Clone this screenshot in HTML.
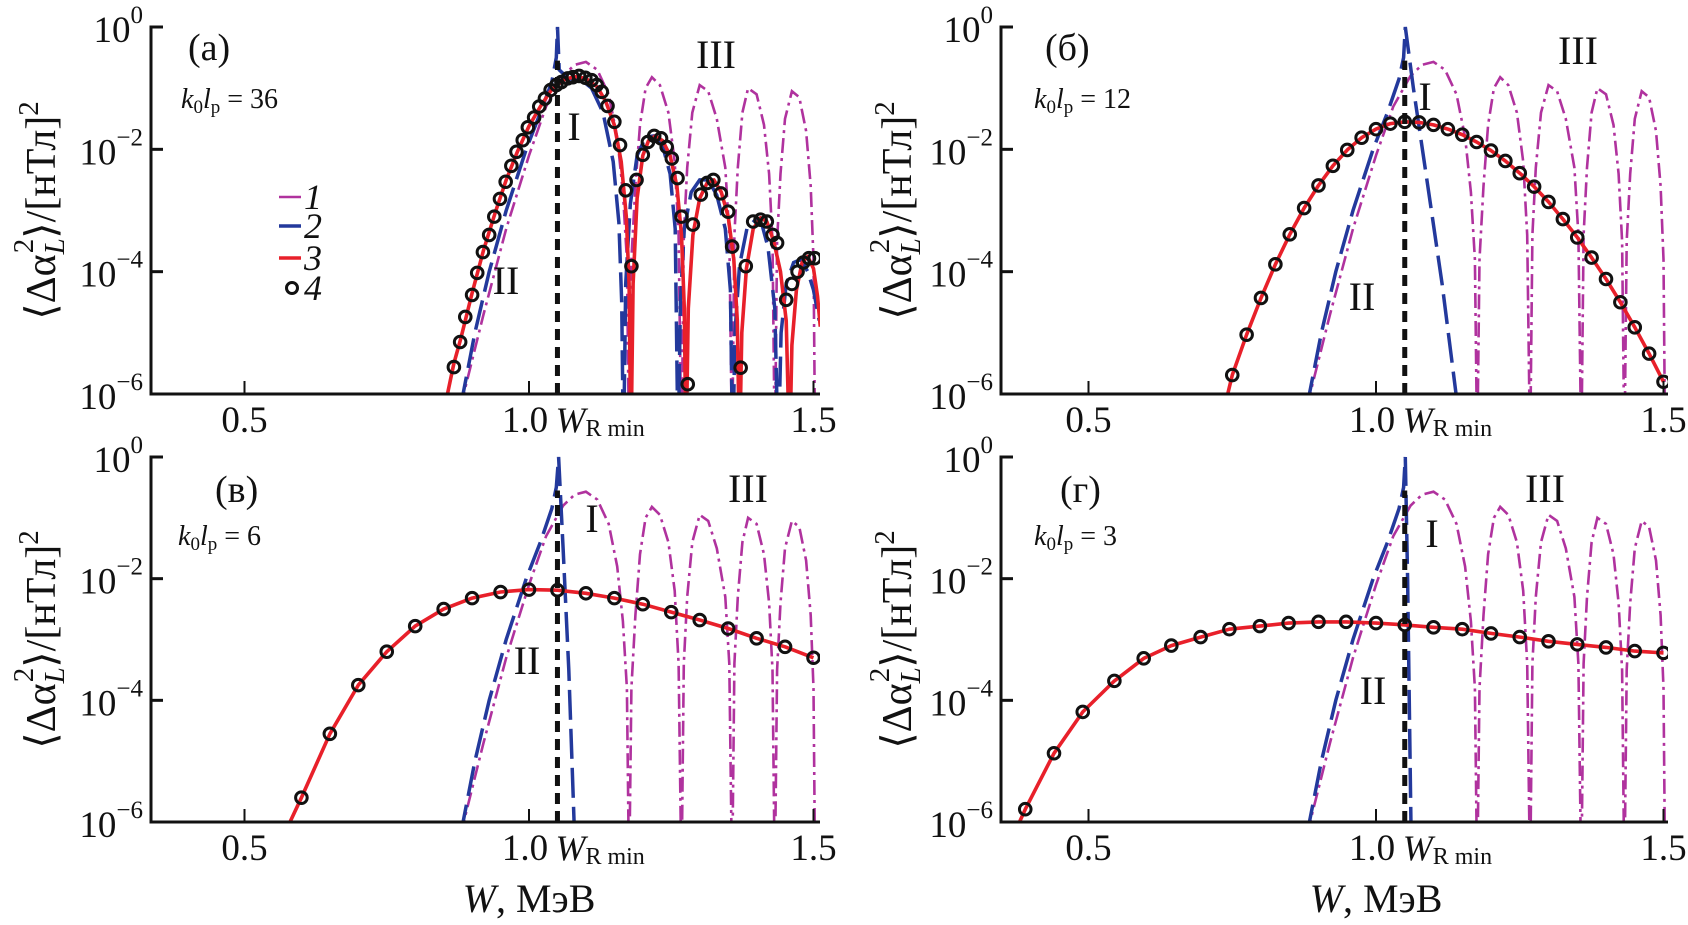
<!DOCTYPE html>
<html><head><meta charset="utf-8"><style>
html,body{margin:0;padding:0;background:#fff;}
svg{display:block;font-family:"Liberation Serif",serif;}
</style></head><body>
<svg id="fig" width="1688" height="925" viewBox="0 0 1688 925" xmlns="http://www.w3.org/2000/svg"></svg>
<script>
// ---------- data (W in MeV, value as log10) ----------
const wRmin = 1.05;
const yTicks = [0, -2, -4, -6];
const xTicks = [0.5, 1.0, 1.5];
const xTickLabels = ["0.5", "1.0", "1.5"];
// curve 1 (same in all panels)
const curve1 = [[0.88,-6.2],[0.92,-4.7],[0.96,-3.3],[1.0,-2.1],[1.03,-1.3],[1.06,-0.8],[1.08,-0.62],[1.10,-0.57],[1.12,-0.7],[1.14,-1.1],[1.155,-1.8],[1.165,-2.7],[1.172,-3.8],[1.176,-7],
[1.180,-3.8],[1.187,-2.6],[1.195,-1.6],[1.205,-1.0],[1.216,-0.82],[1.23,-0.95],[1.245,-1.4],[1.256,-2.2],[1.263,-3.4],[1.268,-7],
[1.272,-3.4],[1.278,-2.3],[1.287,-1.4],[1.30,-0.95],[1.315,-1.05],[1.33,-1.5],[1.345,-2.3],[1.352,-3.4],[1.357,-7],
[1.361,-3.4],[1.367,-2.3],[1.375,-1.4],[1.385,-1.0],[1.40,-1.1],[1.413,-1.6],[1.422,-2.4],[1.428,-3.5],[1.432,-7],
[1.436,-3.5],[1.442,-2.4],[1.45,-1.5],[1.462,-1.05],[1.475,-1.15],[1.487,-1.7],[1.495,-2.6],[1.50,-3.8],[1.503,-7]];
// curve 2 per panel
const curve2a = [[0.88,-6.2],[0.905,-5.0],[0.93,-4.0],[0.96,-3.0],[0.995,-2.0],[1.02,-1.4],[1.04,-0.9],[1.048,-0.5],[1.05,0],[1.053,-0.7],[1.07,-0.85],[1.09,-0.85],[1.11,-1.0],[1.13,-1.4],[1.148,-2.2],[1.158,-3.2],[1.163,-4.5],[1.166,-7],
[1.170,-4.2],[1.178,-2.9],[1.19,-2.1],[1.205,-1.8],[1.22,-1.78],[1.235,-1.95],[1.248,-2.4],[1.257,-3.3],[1.262,-7],
[1.266,-4.5],[1.273,-3.3],[1.285,-2.7],[1.30,-2.5],[1.315,-2.5],[1.33,-2.75],[1.345,-3.3],[1.354,-4.3],[1.358,-7],
[1.362,-5],[1.37,-3.9],[1.383,-3.3],[1.398,-3.15],[1.41,-3.25],[1.42,-3.6],[1.432,-4.6],[1.438,-7],
[1.443,-5],[1.452,-4.2],[1.465,-3.85],[1.478,-3.8],[1.49,-4.0],[1.50,-4.3],[1.51,-4.8]];
const curve2b = [[0.88,-6.2],[0.905,-5.0],[0.93,-4.0],[0.96,-3.0],[0.995,-2.0],[1.02,-1.4],[1.04,-0.85],[1.048,-0.5],[1.051,0],[1.065,-1.0],[1.09,-2.6],[1.115,-4.2],[1.142,-6.2]];
const curve2c = [[0.88,-6.2],[0.905,-5.0],[0.93,-4.0],[0.96,-3.0],[0.995,-2.0],[1.02,-1.4],[1.04,-0.85],[1.048,-0.5],[1.052,0],[1.06,-1.5],[1.07,-3.5],[1.08,-6.2]];
const curve2d = [[0.88,-6.2],[0.905,-5.0],[0.93,-4.0],[0.96,-3.0],[0.995,-2.0],[1.02,-1.4],[1.04,-0.85],[1.048,-0.5],[1.051,0],[1.055,-2.0],[1.061,-6.2]];
// curve 3 per panel
const curve3a = [[0.85,-6.3],[0.868,-5.5],[0.88,-5.1],[0.90,-4.35],[0.92,-3.65],[0.94,-3.05],[0.96,-2.5],[0.98,-2.03],[1.0,-1.62],[1.02,-1.3],[1.04,-1.02],[1.06,-0.87],[1.08,-0.81],[1.10,-0.84],[1.12,-0.98],[1.135,-1.22],[1.15,-1.6],[1.162,-2.2],[1.171,-3.1],[1.176,-4.2],[1.179,-7],
[1.183,-4.2],[1.19,-2.8],[1.20,-2.1],[1.21,-1.86],[1.222,-1.78],[1.235,-1.86],[1.248,-2.1],[1.26,-2.6],[1.268,-3.4],[1.273,-4.6],[1.276,-7],
[1.28,-4.6],[1.288,-3.4],[1.30,-2.8],[1.313,-2.55],[1.325,-2.5],[1.338,-2.7],[1.35,-3.1],[1.36,-3.8],[1.366,-4.8],[1.37,-7],
[1.374,-5],[1.382,-3.95],[1.394,-3.3],[1.407,-3.12],[1.418,-3.18],[1.43,-3.5],[1.442,-4.0],[1.452,-4.8],[1.458,-7],
[1.462,-5.2],[1.47,-4.3],[1.48,-3.85],[1.49,-3.75],[1.50,-3.95],[1.507,-4.4],[1.512,-4.9]];
const curve3b = [[0.742,-6.0],[0.75,-5.69],[0.775,-5.03],[0.80,-4.43],[0.825,-3.88],[0.85,-3.39],[0.875,-2.96],[0.90,-2.59],[0.925,-2.27],[0.95,-2.01],[0.975,-1.81],[1.0,-1.67],[1.025,-1.58],[1.05,-1.55],[1.075,-1.56],[1.10,-1.60],[1.125,-1.67],[1.15,-1.76],[1.175,-1.88],[1.20,-2.02],[1.225,-2.19],[1.25,-2.39],[1.275,-2.61],[1.30,-2.86],[1.325,-3.14],[1.35,-3.44],[1.375,-3.77],[1.40,-4.12],[1.425,-4.50],[1.45,-4.91],[1.475,-5.34],[1.50,-5.80]];
const curve3c = [[0.58,-6.0],[0.6,-5.6],[0.65,-4.55],[0.7,-3.75],[0.75,-3.2],[0.8,-2.78],[0.85,-2.5],[0.9,-2.32],[0.95,-2.22],[1.0,-2.18],[1.05,-2.19],[1.1,-2.24],[1.15,-2.32],[1.2,-2.42],[1.25,-2.55],[1.3,-2.68],[1.35,-2.82],[1.4,-2.98],[1.45,-3.12],[1.5,-3.3]];
const curve3d = [[0.38,-6.0],[0.39,-5.79],[0.44,-4.87],[0.49,-4.19],[0.545,-3.68],[0.596,-3.31],[0.644,-3.1],[0.695,-2.96],[0.745,-2.83],[0.798,-2.78],[0.848,-2.73],[0.9,-2.71],[0.948,-2.71],[1.0,-2.73],[1.05,-2.76],[1.1,-2.8],[1.15,-2.83],[1.2,-2.9],[1.25,-2.96],[1.3,-3.03],[1.35,-3.08],[1.4,-3.13],[1.45,-3.19],[1.5,-3.22]];
// curve 4 (points) per panel
const points4a = [[0.868,-5.56],[0.879,-5.15],[0.888,-4.74],[0.9,-4.38],[0.909,-4.02],[0.919,-3.68],[0.93,-3.4],[0.939,-3.1],[0.949,-2.81],[0.959,-2.53],[0.969,-2.27],[0.978,-2.04],[0.989,-1.85],[0.998,-1.64],[1.009,-1.48],[1.018,-1.30],[1.028,-1.17],[1.038,-1.03],[1.048,-0.95],[1.057,-0.9],[1.068,-0.84],[1.077,-0.82],[1.088,-0.8],[1.099,-0.83],[1.11,-0.87],[1.119,-0.95],[1.128,-1.06],[1.138,-1.29],[1.15,-1.55],[1.16,-1.93],[1.17,-2.67],[1.18,-3.91],[1.189,-2.5],[1.2,-2.09],[1.209,-1.88],[1.22,-1.78],[1.232,-1.82],[1.242,-1.96],[1.251,-2.15],[1.261,-2.47],[1.268,-3.1],[1.279,-5.84],[1.288,-3.23],[1.302,-2.74],[1.313,-2.55],[1.324,-2.5],[1.337,-2.72],[1.35,-3.02],[1.357,-3.59],[1.372,-5.57],[1.381,-3.91],[1.394,-3.18],[1.407,-3.15],[1.418,-3.18],[1.428,-3.4],[1.436,-3.53],[1.452,-4.46],[1.462,-4.2],[1.472,-4.0],[1.482,-3.85],[1.492,-3.78],[1.502,-3.78]];
const points4b = curve3b.slice(1);
const points4c = curve3c.slice(1);
const points4d = curve3d.slice(1);
</script>
<script>
const svg = document.getElementById('fig');
const NS = 'http://www.w3.org/2000/svg';
function mk(tag, attrs, parent) {
  const el = document.createElementNS(NS, tag);
  for (const k in attrs) el.setAttribute(k, attrs[k]);
  (parent || svg).appendChild(el);
  return el;
}
const panels = [
  {id:'a', lab:'(а)', k:'36', ax:151, right:820, x1:529, unit:569, top:27, bot:394, c2:curve2a, c3:curve3a, p4:points4a,
   titleX:43, legend:true, III:[716,68], I:[574,140], II:[506,294], label:[188,60], kl:[181,108]},
  {id:'b', lab:'(б)', k:'12', ax:1001, right:1668, x1:1376, unit:575, top:27, bot:394, c2:curve2b, c3:curve3b, p4:points4b,
   titleX:899, III:[1578,64], I:[1425,110], II:[1362,310], label:[1045,60], kl:[1034,108]},
  {id:'c', lab:'(в)', k:'6', ax:151, right:820, x1:529, unit:569, top:457, bot:822, c2:curve2c, c3:curve3c, p4:points4c,
   titleX:43, III:[748,502], I:[592,532], II:[527,674], label:[215,502], kl:[178,545]},
  {id:'d', lab:'(г)', k:'3', ax:1001, right:1668, x1:1376, unit:575, top:457, bot:822, c2:curve2d, c3:curve3d, p4:points4d,
   titleX:899, III:[1545,502], I:[1432,547], II:[1373,704], label:[1060,502], kl:[1034,545]}
];
panels.forEach(function(P) {
  const g = mk('g', {});
  
  
  const xs = function(w){ return P.x1 + (w - 1) * P.unit; };
  const ys = function(l){ return P.top + (-l) / 6 * (P.bot - P.top); };
  const cp = mk('clipPath', {id:'clip-' + P.id}, g);
  mk('rect', {x:P.ax, y:P.top - 6, width:P.right - P.ax, height:P.bot - P.top + 6}, cp);
  const plot = mk('g', {'clip-path':'url(#clip-' + P.id + ')'}, g);
  
  
  function pathOf(arr){ return arr.map(function(p,i){ return (i?'L':'M') + xs(p[0]).toFixed(1) + ' ' + ys(p[1]).toFixed(1); }).join(' '); }
  const l1 = mk('path', {d:pathOf(curve1), fill:'none', stroke:'#b0329e', 'stroke-width':2.6, 'stroke-dasharray':'15 5 3 5'}, plot);
  
  
  const l2 = mk('path', {d:pathOf(P.c2), fill:'none', stroke:'#23399c', 'stroke-width':3.5, 'stroke-dasharray':'30 9'}, plot);
  
  
  const l3 = mk('path', {d:pathOf(P.c3), fill:'none', stroke:'#e8202a', 'stroke-width':3.6, 'stroke-linejoin':'round'}, plot);
  
  
  P.p4.forEach(function(p) {
    const c = mk('circle', {cx:xs(p[0]), cy:ys(p[1]), r:5.8, fill:'none', stroke:'#111', 'stroke-width':3}, plot);
    
    
  });
  const vl = mk('line', {x1:xs(wRmin), x2:xs(wRmin), y1:P.bot, y2:ys(-0.55), stroke:'#111', 'stroke-width':5, 'stroke-dasharray':'11 7'}, g);
  
  
  // axes
  const axis = mk('path', {d:'M' + (P.ax + 12) + ' ' + P.top + ' L' + P.ax + ' ' + P.top + ' L' + P.ax + ' ' + P.bot + ' L' + P.right + ' ' + P.bot, fill:'none', stroke:'#111', 'stroke-width':3}, g);
  
  
  yTicks.forEach(function(t) {
    const tk = mk('line', {x1:P.ax, x2:P.ax + 12, y1:ys(t), y2:ys(t), stroke:'#111', 'stroke-width':3}, g);
    
    
    const tx = mk('text', {x:P.ax - 8, y:ys(t) + 15, 'text-anchor':'end', 'font-size':37, fill:'#111'}, g);
    
    
    tx.appendChild(document.createTextNode('10'));
    const sp = mk('tspan', {dy:-19, 'font-size':25}, tx);
    sp.textContent = t === 0 ? '0' : '\u2212' + (-t);
  });
  xTicks.forEach(function(t, i) {
    const tk = mk('line', {x1:xs(t), x2:xs(t), y1:P.bot, y2:P.bot - 13, stroke:'#111', 'stroke-width':2}, g);
    
    
    const tx = mk('text', {x:xs(t) - (i === 1 ? 4 : 0), y:P.bot + 38, 'text-anchor':'middle', 'font-size':37, fill:'#111'}, g);
    
    
    tx.textContent = xTickLabels[i];
  });
  const wl = mk('text', {x:xs(wRmin) - 2, y:P.bot + 38, 'font-size':36, fill:'#111'}, g);
  
  
  const wi = mk('tspan', {'font-style':'italic'}, wl); wi.textContent = 'W';
  const ws = mk('tspan', {'font-size':24, dy:4}, wl); ws.textContent = 'R min';
  // y title
  const yt = mk('text', {transform:'translate(' + (P.titleX + 12) + ',' + ((P.top + P.bot) / 2) + ') rotate(-90)', 'text-anchor':'middle', 'font-size':42, fill:'#111'}, g);
  
  
  yt.innerHTML = '\u27E8\u0394\u03B1<tspan font-size="29" font-style="italic" dy="9">L</tspan><tspan font-size="29" dx="-15" dy="-31">2</tspan><tspan dy="22">\u27E9/[нТл]</tspan><tspan font-size="29" dy="-17">2</tspan>';
  // labels
  const pl = mk('text', {x:P.label[0], y:P.label[1], 'font-size':38, fill:'#111'}, g);
  
  
  pl.textContent = P.lab;
  const kt = mk('text', {x:P.kl[0], y:P.kl[1], 'font-size':28, fill:'#111'}, g);
  
  
  kt.innerHTML = '<tspan font-style="italic">k</tspan><tspan font-size="19" dy="5">0</tspan><tspan font-style="italic" dy="-5">l</tspan><tspan font-size="19" dy="5">p</tspan><tspan dy="-5"> = ' + P.k + '</tspan>';
  [['III', P.III], ['I', P.I], ['II', P.II]].forEach(function(r) {
    const t = mk('text', {x:r[1][0], y:r[1][1], 'font-size':40, fill:'#111', 'text-anchor':'middle'}, g);
    
    
    t.textContent = r[0];
  });
  if (P.legend) {
    const lg = mk('g', {}, g);
    
    
    const ent = [['1','#b0329e',197],['2','#23399c',226],['3','#e8202a',258],['4',null,288]];
    ent.forEach(function(e) {
      if (e[1]) {
        const ln = mk('line', {x1:279, x2:301, y1:e[2], y2:e[2], stroke:e[1], 'stroke-width':e[0] === '1' ? 2.6 : 3.6}, lg);
        
        
      } else {
        const cc = mk('circle', {cx:292, cy:e[2], r:5.5, fill:'none', stroke:'#111', 'stroke-width':3}, lg);
        
        
      }
      const tt = mk('text', {x:304, y:e[2] + 12, 'font-size':36, 'font-style':'italic', fill:'#111'}, lg);
      
      
      tt.textContent = e[0];
    });
  }
  if (P.id === 'c' || P.id === 'd') {
    const xt = mk('text', {x:xs(1.0), y:912, 'text-anchor':'middle', 'font-size':40, fill:'#111'}, g);
    
    
    xt.innerHTML = '<tspan font-style="italic">W</tspan>, МэВ';
  }
});
</script>
</body></html>
